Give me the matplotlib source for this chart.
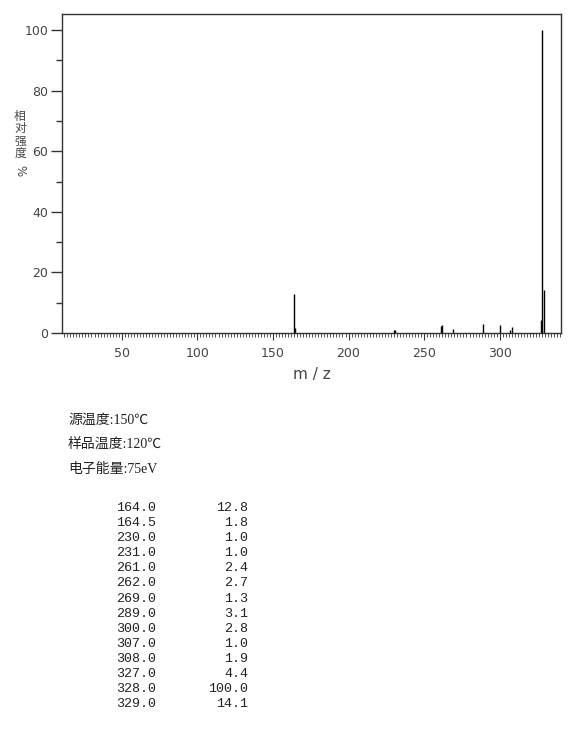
import matplotlib
matplotlib.use("Agg")
import matplotlib.pyplot as plt
import numpy as np
from matplotlib.ticker import MultipleLocator

# --- data ---
mz = [164.0, 164.5, 230.0, 231.0, 261.0, 262.0, 269.0, 289.0,
      300.0, 307.0, 308.0, 327.0, 328.0, 329.0]
intensity = [12.8, 1.8, 1.0, 1.0, 2.4, 2.7, 1.3, 3.1,
             2.8, 1.0, 1.9, 4.4, 100.0, 14.1]
conditions = ["源温度:150℃", "样品温度:120℃", "电子能量:75eV"]
x_ticks = [50, 100, 150, 200, 250, 300]
y_ticks = [0, 20, 40, 60, 80, 100]

cjk = ['Liberation Serif', 'Noto Sans CJK SC', 'DejaVu Sans']
axis_col = '#333333'
label_col = '#444444'

fig = plt.figure(figsize=(5.7, 7.38), dpi=100)
ax = fig.add_axes([62 / 570, 1 - 333 / 738, 499 / 570, 319 / 738])

ax.vlines(mz, 0, intensity, colors='black', linewidth=1.0)

ax.set_xlim(10.5, 340.5)
ax.set_ylim(0, 105.3)
ax.set_xticks(x_ticks)
ax.set_yticks(y_ticks)
ax.xaxis.set_minor_locator(MultipleLocator(2))
ax.yaxis.set_minor_locator(MultipleLocator(10))
ax.tick_params(axis='y', which='major', direction='out', length=8, width=1,
               color=axis_col, labelcolor=label_col, labelsize=9, pad=2)
ax.tick_params(axis='y', which='minor', direction='out', length=4, width=1,
               color=axis_col)
ax.tick_params(axis='x', which='major', direction='out', length=5, width=0.8,
               color=axis_col, labelcolor=label_col, labelsize=9, pad=5)
ax.tick_params(axis='x', which='minor', direction='out', length=3, width=0.6,
               color=axis_col)
for sp in ax.spines.values():
    sp.set_color(axis_col)
    sp.set_linewidth(1.0)

ax.set_xlabel("m / z", fontsize=11, color=label_col, labelpad=5)

# stacked vertical y label, one character per line
ylab = "相对强度"
for i, ch in enumerate(ylab):
    fig.text(20 / 570, 1 - (116 + i * 12.5) / 738, ch, family=['Noto Sans CJK SC'],
             fontsize=8.5, color=label_col, ha='center', va='center')
fig.text(20 / 570, 1 - 171 / 738, "%", fontsize=8.5, color=label_col,
         ha='center', va='center', rotation=-90)

# acquisition conditions
for i, line in enumerate(conditions):
    fig.text(68 / 570, 1 - (420 + i * 24.5) / 738, line, family=cjk,
             fontsize=10, color='#222222', ha='left', va='center')

# peak table
for i, (m, v) in enumerate(zip(mz, intensity)):
    y = 1 - (508 + i * 15.1) / 738
    fig.text(156 / 570, y, f"{m:.1f}", family='Liberation Mono', fontsize=9.6,
             color='#222222', ha='right', va='center')
    fig.text(248 / 570, y, f"{v:.1f}", family='Liberation Mono', fontsize=9.6,
             color='#222222', ha='right', va='center')

fig.savefig("out.png", dpi=100)
